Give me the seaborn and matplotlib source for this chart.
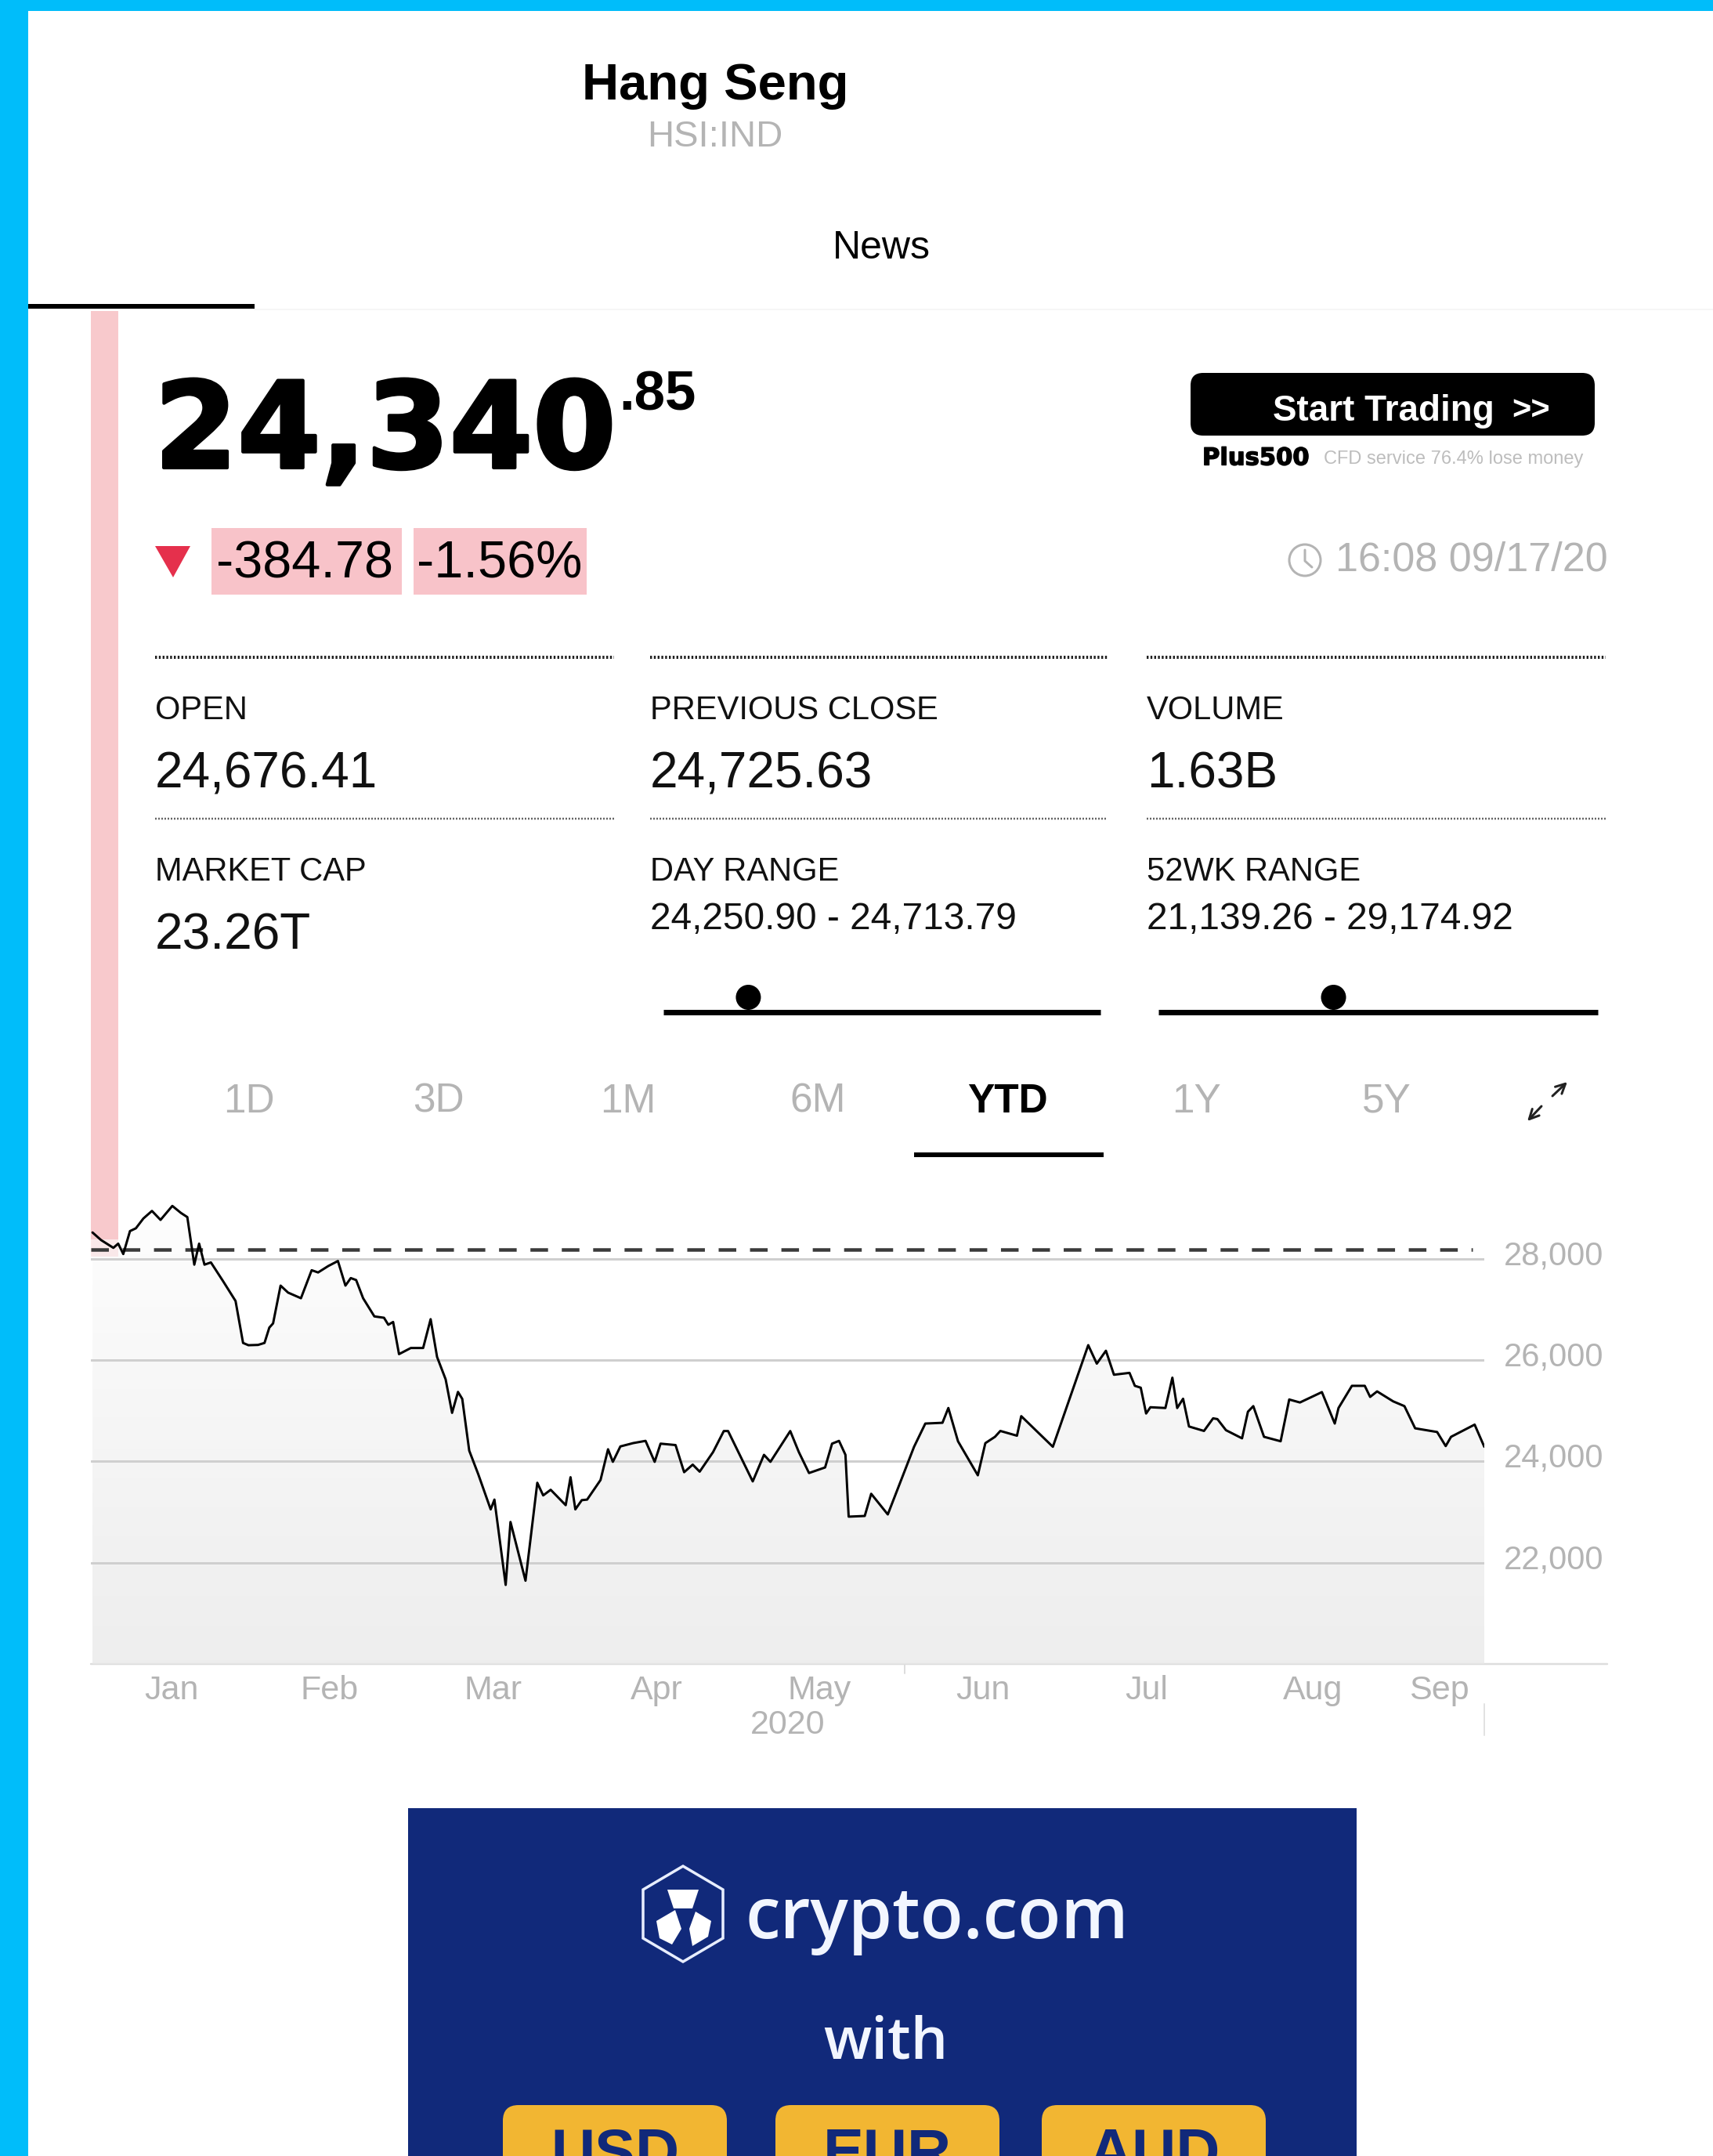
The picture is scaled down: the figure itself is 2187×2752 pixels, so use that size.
import matplotlib
matplotlib.use('Agg')
import numpy as np
import matplotlib.pyplot as plt
import matplotlib.patheffects as pe
from matplotlib.patches import FancyBboxPatch, Rectangle, Polygon, Circle
from matplotlib.transforms import ScaledTranslation
import seaborn as sns

# days since Jan 1 2020 and index level
days = [0.3, 1.9, 4.2, 5.1, 6.05, 7.3, 8.4, 9.8, 11.4, 13.0, 15.2, 16.8, 18.0, 19.3, 20.2, 21.2, 22.4, 24.7,
        27.0, 28.4, 29.4, 31.2, 32.4, 33.3, 34.0, 35.4, 36.8, 39.2, 41.2, 42.4, 44.3, 46.1, 47.5, 48.5, 49.5,
        50.8, 52.9, 54.7, 55.5, 56.4, 57.5, 59.7, 62.0, 63.4, 64.6, 66.2, 67.4, 68.5, 69.3, 70.6, 72.3, 74.6,
        75.3, 77.4, 78.3, 81.1, 83.3, 84.4, 85.8, 88.6, 89.5, 90.4, 91.6, 92.6, 95.1, 96.5, 97.4, 98.8, 101.2,
        103.5, 105.2, 106.3, 109.1, 110.7, 112.3, 113.6, 116.1, 118.1, 118.9, 123.5, 125.6, 126.8, 130.5,
        132.1, 134.0, 137.0, 138.3, 139.6, 140.8, 141.4, 144.4, 145.6, 148.7, 153.6, 155.7, 158.9, 160.0,
        161.8, 165.5, 166.9, 168.7, 169.7, 172.8, 173.6, 179.5, 186.1, 187.7, 189.4, 190.9, 193.8, 194.8,
        195.9, 196.9, 197.7, 200.5, 201.8, 202.7, 203.8, 204.9, 207.7, 209.4, 210.2, 211.8, 214.8, 215.9,
        216.9, 218.9, 222.0, 223.6, 225.6, 229.7, 232.1, 232.8, 235.3, 237.7, 238.7, 240.0, 243.0, 245.1,
        247.1, 251.2, 252.8, 253.8, 258.2, 260.0]
levels = [28523, 28373, 28219, 28302, 28097, 28550, 28605, 28799, 28948, 28771, 29047, 28909, 28826, 27887, 28302,
          27887, 27931, 27556, 27169, 26341, 26296, 26302, 26341, 26644, 26727, 27473, 27335, 27224, 27777, 27733,
          27860, 27959, 27473, 27622, 27583, 27224, 26865, 26838, 26700, 26755, 26120, 26241, 26241, 26810, 26064,
          25622, 24960, 25374, 25236, 24214, 23744, 23054, 23247, 21562, 22805, 21645, 23579, 23330, 23441, 23137,
          23689, 23054, 23236, 23247, 23634, 24241, 23993, 24297, 24363, 24407, 23993, 24352, 24324, 23788, 23938,
          23799, 24186, 24601, 24601, 23606, 24131, 23993, 24601, 24186, 23772, 23882, 24352, 24407, 24131, 22910,
          22924, 23362, 22954, 24290, 24749, 24764, 25056, 24399, 23727, 24362, 24487, 24603, 24509, 24895, 24290,
          26297, 25932, 26187, 25713, 25750, 25494, 25457, 24947, 25071, 25056, 25655, 25056, 25239, 24691, 24603,
          24852, 24837, 24618, 24457, 24983, 25093, 24487, 24399, 25224, 25165, 25370, 24749, 25056, 25494, 25494,
          25275, 25384, 25187, 25093, 24655, 24582, 24304, 24487, 24728, 24290]
prev_year_close = 28190
y_ticks = [22000, 24000, 26000, 28000]
y_labels = ['22,000', '24,000', '26,000', '28,000']
month_pos = [15, 44.5, 75, 105.5, 136, 166.5, 197, 228, 251.5]
month_names = ['Jan', 'Feb', 'Mar', 'Apr', 'May', 'Jun', 'Jul', 'Aug', 'Sep']

price_int = '24,340'
price_dec = '.85'
price = 24340.85
day_low, day_high = 24250.90, 24713.79
wk_low, wk_high = 21139.26, 29174.92
stat_labels = ['OPEN', 'PREVIOUS CLOSE', 'VOLUME', 'MARKET CAP', 'DAY RANGE', '52WK RANGE']
stat_values = ['24,676.41', '24,725.63', '1.63B', '23.26T', '24,250.90 - 24,713.79', '21,139.26 - 29,174.92']
tabs = ['1D', '3D', '1M', '6M', 'YTD', '1Y', '5Y']
currencies = ['USD', 'EUR', 'AUD']

sns.set_theme(style='white')
plt.rcParams['font.family'] = ['Liberation Sans', 'DejaVu Sans']

W, H = 2187, 2752
fig = plt.figure(figsize=(W / 100, H / 100), dpi=100, facecolor='white')

# page layer in pixels
page = fig.add_axes([0, 0, 1, 1])
page.set_xlim(0, W)
page.set_ylim(H, 0)
page.axis('off')

GRAY = '#b4b4b4'
px = 0.72  # one pixel in points


def label(x, y, s, **kw):
    # centred text sits a bit low in the reference
    kw.setdefault('va', 'center')
    return page.text(x, y + 5, s, **kw)


page.add_patch(Rectangle((0, 0), W, 14, color='#00BDFA', lw=0))
page.add_patch(Rectangle((0, 0), 36, H, color='#00BDFA', lw=0))

label(913, 105, 'Hang Seng', fontsize=47, fontweight='bold', ha='center', color='black')
label(913, 170, 'HSI:IND', fontsize=34, ha='center', color=GRAY)
label(1125, 312, 'News', fontsize=36, ha='center', color='black')
page.plot([36, 325], [391, 391], color='black', lw=6 * px, solid_capstyle='butt')
page.plot([325, W], [395, 395], color='#f6f6f6', lw=2 * px)

# pink bar behind the chart start
page.add_patch(Rectangle((116, 397), 35, 1185, color='#F8C9CC', lw=0))
page.add_patch(Rectangle((116, 1582), 35, 22, color='#FCE9EA', lw=0))

# price
page.text(197, 597, price_int, fontsize=110, fontweight='bold', family=['DejaVu Sans'], ha='left', va='baseline',
          color='black', path_effects=[pe.withStroke(linewidth=3, foreground='black')])
label(790, 501, price_dec, fontsize=51, fontweight='bold', ha='left', color='black')

# trading button
page.add_patch(FancyBboxPatch((1520, 476), 516, 80, boxstyle='round,pad=0,rounding_size=16', lw=0, fc='black'))
label(1625, 520, 'Start Trading', fontsize=33, fontweight='bold', ha='left', color='white')
label(1930, 520, '>>', fontsize=30, fontweight='bold', ha='left', color='white')
page.text(1535, 585, 'Plus500', fontsize=22, fontweight='bold', family=['DejaVu Sans'], ha='left', va='center',
          color='black', path_effects=[pe.withStroke(linewidth=1, foreground='black')])
page.text(1690, 586, 'CFD service 76.4% lose money', fontsize=17, ha='left', va='center', color='#bdbdbd')

# change row
page.add_patch(Polygon([(198, 697), (243, 697), (221, 737)], color='#E5304C', lw=0))
page.add_patch(Rectangle((270, 674), 243, 85, color='#F8C3C9', lw=0))
page.add_patch(Rectangle((528, 674), 221, 85, color='#F8C3C9', lw=0))
label(389, 716, '-384.78', fontsize=48, ha='center', color='black')
label(638, 716, '-1.56%', fontsize=48, ha='center', color='black')
page.add_patch(Circle((1666, 715), 20, fc='none', ec=GRAY, lw=3 * px))
page.plot([1666, 1666, 1675], [702, 716, 724], color=GRAY, lw=3 * px)
label(1705, 710, '16:08 09/17/20', fontsize=37.5, ha='left', color=GRAY)

# stat grid
col_x = [198, 830, 1464]
col_end = [784, 1414, 2050]
for i in range(3):
    page.plot([col_x[i], col_end[i]], [839, 839], color='#222222', lw=4 * px, ls=(0, (0.6, 0.6)))
    page.plot([col_x[i], col_end[i]], [1045, 1045], color='#666666', lw=2.5 * px, ls=(0, (0.8, 0.8)))
    label(col_x[i], 899 + 3, stat_labels[i], fontsize=30, ha='left', color='#111111')
    label(col_x[i], 979 + 5, stat_values[i], fontsize=46, ha='left', color='#111111')
    label(col_x[i], 1105 + 3, stat_labels[i + 3], fontsize=30, ha='left', color='#111111')
label(col_x[0], 1184 + 5, stat_values[3], fontsize=46, ha='left', color='#111111')
label(col_x[1], 1166 + 3, stat_values[4], fontsize=34.5, ha='left', color='#111111')
label(col_x[2], 1166 + 3, stat_values[5], fontsize=34.5, ha='left', color='#111111')

# range sliders, dot comes from the values
for x0, x1, lo, hi in [(847, 1405, day_low, day_high), (1479, 2040, wk_low, wk_high)]:
    page.plot([x0, x1], [1292, 1292], color='black', lw=7 * px, solid_capstyle='butt')
    page.add_patch(Circle((x0 + (price - lo) / (hi - lo) * (x1 - x0), 1273), 16, color='black', lw=0))

# period tabs
for i, t in enumerate(tabs):
    sel = t == 'YTD'
    label(318 + i * 242, 1396 + 5, t, fontsize=37, fontweight='bold' if sel else 'normal', ha='center',
          color='black' if sel else GRAY)
page.plot([1167, 1409], [1474, 1474], color='black', lw=6 * px, solid_capstyle='butt')
page.annotate('', xy=(1950, 1431), xytext=(1968, 1412), arrowprops=dict(arrowstyle='->', color='#222222', lw=3 * px, mutation_scale=22, shrinkA=0, shrinkB=0))
page.annotate('', xy=(2001, 1381), xytext=(1982, 1399), arrowprops=dict(arrowstyle='->', color='#222222', lw=3 * px, mutation_scale=22, shrinkA=0, shrinkB=0))

# line between axis end and right edge
page.plot([116, 2052], [2124, 2124], color='#dddddd', lw=2.5 * px)
page.plot([1895, 1895], [2175, 2215], color='#e2e2e2', lw=2 * px)
page.plot([1155, 1155], [2124, 2136], color='#dddddd', lw=2 * px)

# chart
ax = fig.add_axes([116 / W, (H - 2124) / H, 1779 / W, 614 / H])
ax.patch.set_alpha(0)
poly = ax.fill_between(days, levels, 20000, color='none', lw=0)
shade = np.linspace(0, 1, 256).reshape(-1, 1) ** 0.9
rgba = np.zeros((256, 1, 4))
rgba[..., :3] = 0.91
rgba[..., 3] = shade * 0.75
img = ax.imshow(rgba, extent=(0, 260, 20000, 29500), origin='upper', aspect='auto', zorder=0)
img.set_clip_path(poly.get_paths()[0], transform=ax.transData)

ax.set_xlim(0, 260)
ax.set_ylim(20000, 29500)
ax.axhline(prev_year_close, color='#3a3a3a', lw=4.5 * px, ls=(0, (5, 3.9)), xmax=1764 / 1779, zorder=2)
sns.lineplot(x=days, y=levels, ax=ax, color='black', lw=3 * px, estimator=None, sort=False, zorder=3)

ax.set_yticks(y_ticks)
ax.set_yticklabels(y_labels, fontsize=30, color=GRAY)
ax.yaxis.tick_right()
ax.tick_params(axis='y', length=0, pad=18)
shift = ScaledTranslation(0, 8 / 100, fig.dpi_scale_trans)
for lab in ax.get_yticklabels():
    lab.set_transform(lab.get_transform() + shift)
ax.set_xticks(month_pos)
ax.set_xticklabels(month_names, fontsize=31, color=GRAY)
ax.tick_params(axis='x', length=0, pad=10)
ax.set_xlabel('2020', fontsize=31, color=GRAY, labelpad=3)
ax.grid(axis='y', color='#cfcfcf', lw=3 * px, zorder=1)
ax.grid(axis='x', visible=False)
ax.set_axisbelow(True)
sns.despine(ax=ax, left=True, right=True, top=True, bottom=True)

# crypto banner, drawn last so it sits on top of the page layer
page.add_patch(Rectangle((521, 2308), 1211, H - 2308, color='#11297A', lw=0))
page.add_patch(Polygon([(872, 2382), (923, 2412), (923, 2474), (872, 2504), (821, 2474), (821, 2412)],
                       fc='none', ec='#E8EEFF', lw=3.5 * px))
page.add_patch(Polygon([(852, 2412), (892, 2412), (884, 2436), (860, 2436)], color='white', lw=0))
page.add_patch(Polygon([(838, 2452), (862, 2438), (870, 2462), (858, 2482), (842, 2474)], color='white', lw=0))
page.add_patch(Polygon([(880, 2462), (888, 2440), (908, 2452), (904, 2472), (884, 2484)], color='white', lw=0))
page.text(952, 2450, 'crypto.com', fontsize=65, family=['Open Sans', 'DejaVu Sans'], fontweight='semibold',
          ha='left', va='center', color='#F2F6FF')
page.text(1131, 2608, 'with', fontsize=54, family=['Open Sans', 'DejaVu Sans'], fontweight='semibold',
          ha='center', va='center', color='#F2F6FF')
for x0, cur in zip([642, 990, 1330], currencies):
    page.add_patch(FancyBboxPatch((x0, 2687), 286, 120, boxstyle='round,pad=0,rounding_size=20', lw=0, fc='#F2B632'))
    page.text(x0 + 143, 2772, cur, fontsize=56, fontweight='bold', ha='center', va='baseline', color='#11297A', clip_on=True)

fig.savefig('out.png', dpi=100)
